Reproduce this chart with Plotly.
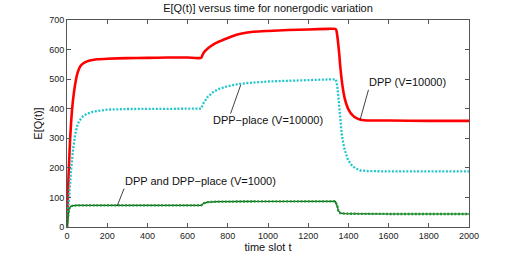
import plotly.graph_objects as go

# ---- data ----
t_dpp = [0, 5, 10, 15, 20, 25, 30, 40, 50, 60, 70, 80, 100, 120, 150, 200, 300, 400, 500, 600,
         667, 675, 685, 700, 727, 760, 800, 826, 870, 926, 1000, 1100, 1200, 1300, 1335,
         1340, 1345, 1350, 1355, 1360, 1370, 1380, 1390, 1400, 1420, 1440, 1460, 1480, 1500,
         1600, 1800, 2000]
q_dpp = [0, 120, 210, 290, 350, 395, 430, 480, 515, 535, 547, 553, 560, 564, 567, 569, 571, 572, 573, 573,
         572, 583, 594, 604, 617, 628, 639, 646, 654, 660, 663, 666, 668, 670, 670,
         665, 645, 615, 580, 540, 480, 440, 415, 398, 378, 368, 363, 361, 360,
         360, 359, 359]

t_place = [0, 10, 20, 30, 40, 50, 60, 80, 100, 130, 160, 200, 300, 400, 500, 600,
           667, 680, 700, 730, 760, 800, 850, 900, 1000, 1100, 1200, 1300, 1338,
           1345, 1350, 1360, 1367, 1380, 1398, 1415, 1433, 1460, 1500, 1600, 2000]
q_place = [0, 100, 190, 260, 310, 340, 358, 375, 383, 390, 394, 397, 399, 400, 400, 400,
           400, 420, 440, 458, 468, 476, 483, 487, 492, 495, 497, 499, 499,
           475, 440, 360, 312, 265, 227, 210, 199, 191, 189, 188, 188]

t_low = [0, 5, 10, 15, 20, 30, 50, 200, 400, 600, 667, 680, 700, 750, 1000, 1200, 1335,
         1345, 1350, 1360, 1380, 1600, 2000]
q_low = [0, 40, 60, 67, 70, 72, 73, 73, 73, 73, 73, 80, 84, 86, 87, 87, 87,
         70, 55, 47, 45, 44, 44]

x_ticks = [0, 200, 400, 600, 800, 1000, 1200, 1400, 1600, 1800, 2000]
y_ticks = [0, 100, 200, 300, 400, 500, 600, 700]

title_text = "E[Q(t)] versus time for nonergodic variation"
x_label = "time slot t"
y_label = "E[Q(t)]"

# labels: (text, x, y) and pointer lines: (x_tip, y_tip, x_tail, y_tail)
labels = [("DPP (V=10000)", 1692, 490),
          ("DPP\u2212place (V=10000)", 1002, 361),
          ("DPP and DPP\u2212place (V=1000)", 662, 156)]
pointers = [(1458, 362, 1502, 469),
            (864, 480, 811, 378),
            (250, 72, 287, 135)]

FONT = "Liberation Sans, Arial, sans-serif"
AX = "#555555"
DOTS = "2px,1.6px"

fig = go.Figure()
fig.add_trace(go.Scatter(x=t_dpp, y=q_dpp, mode="lines",
                         line=dict(color="#ff0000", width=2.6, shape="spline", smoothing=0.6),
                         name="DPP (V=10000)"))
fig.add_trace(go.Scatter(x=t_place, y=q_place, mode="lines",
                         line=dict(color="#22c6cc", width=2.3, dash=DOTS), name="DPP-place (V=10000)"))
fig.add_trace(go.Scatter(x=t_low, y=q_low, mode="lines",
                         line=dict(color="#0e5a1e", width=1.2), name="DPP (V=1000)"))
fig.add_trace(go.Scatter(x=t_low, y=q_low, mode="lines",
                         line=dict(color="#1a982c", width=2.3, dash=DOTS), name="DPP-place (V=1000)"))

annotations = []
for txt, x, y in labels:
    annotations.append(dict(text=txt, x=x, y=y, xref="x", yref="y", showarrow=False,
                            font=dict(family=FONT, size=11, color="#111111")))
for xt, yt, xa, ya in pointers:
    annotations.append(dict(text="", x=xt, y=yt, ax=xa, ay=ya, xref="x", yref="y",
                            axref="x", ayref="y", showarrow=True, arrowhead=0,
                            arrowwidth=0.8, arrowcolor="#111111"))

fig.update_layout(
    width=519, height=256,
    margin=dict(l=67, r=50, t=20, b=29, autoexpand=False),
    paper_bgcolor="white", plot_bgcolor="white",
    showlegend=False,
    title=dict(text=title_text, x=(67 + 469) / 2 / 519, xanchor="center",
               y=1 - 8 / 256, yanchor="middle",
               font=dict(family=FONT, size=11, color="#111111")),
    font=dict(family=FONT, color="#222222"),
    annotations=annotations,
)
fig.update_xaxes(range=[0, 2000], tickvals=x_ticks, ticks="inside", ticklen=4, automargin=False,
                 tickcolor=AX, linecolor=AX, linewidth=1, mirror="ticks", showline=True,
                 showgrid=False, zeroline=False, tickfont=dict(size=9, family=FONT, color="#222222"),
                 title=dict(text=x_label, standoff=0, font=dict(size=11, family=FONT, color="#111111")))
fig.update_yaxes(range=[0, 700], tickvals=y_ticks, ticks="inside", ticklen=4, automargin=False,
                 tickcolor=AX, linecolor=AX, linewidth=1, mirror="ticks", showline=True,
                 showgrid=False, zeroline=False, tickfont=dict(size=9, family=FONT, color="#222222"),
                 title=dict(text=y_label, standoff=4, font=dict(size=11, family=FONT, color="#111111")))

fig.write_html("out.html", config={"displayModeBar": False},
               post_script="document.body.style.margin='0';document.body.style.overflow='hidden';")
